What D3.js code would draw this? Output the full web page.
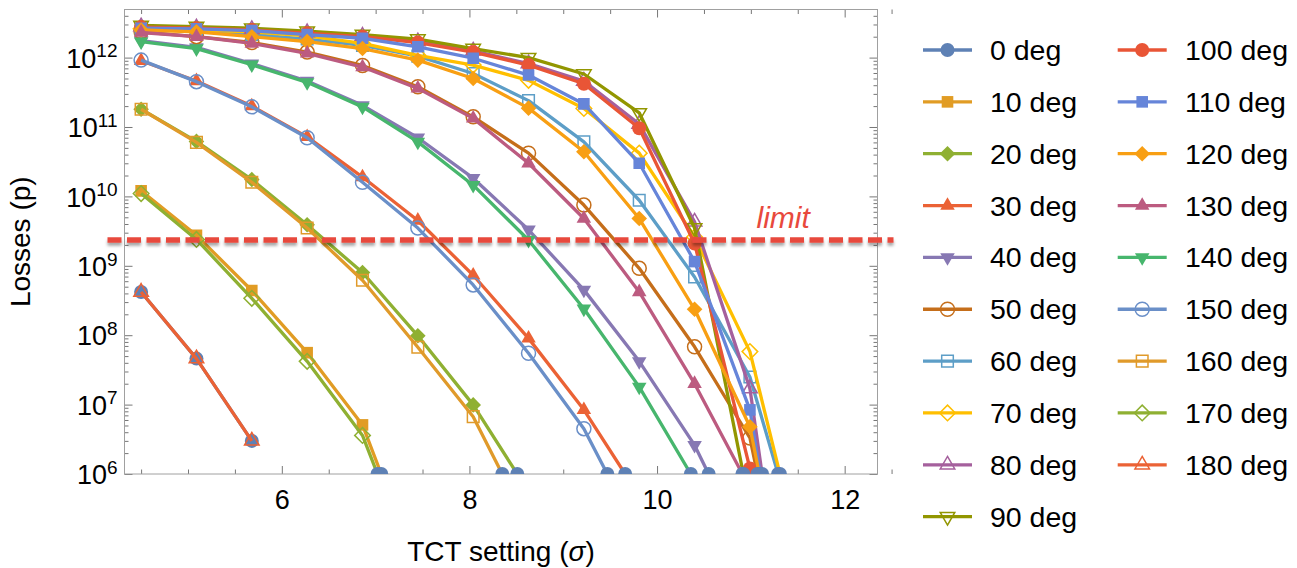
<!DOCTYPE html>
<html>
<head>
<meta charset="utf-8">
<script src="https://cdn.jsdelivr.net/npm/d3@7"></script>
<style>
    body { margin: 0; background: #fff; }
    svg { font-family: "Liberation Sans", Arial, Helvetica, sans-serif; }
</style>
</head>
<body>
<div id="chart"></div>
<script>
// TCT settings (sigma) at which losses were computed
const tctSettings = [4.50, 5.09, 5.68, 6.27, 6.86, 7.45, 8.04, 8.63, 9.22, 9.81, 10.40, 10.99];

const angleLabels = ["0 deg", "10 deg", "20 deg", "30 deg", "40 deg", "50 deg", "60 deg",
    "70 deg", "80 deg", "90 deg", "100 deg", "110 deg", "120 deg", "130 deg", "140 deg",
    "150 deg", "160 deg", "170 deg", "180 deg"];

// losses (p), one value per TCT setting
const loss0   = [4.2e8, 4.6e7, 3.0e6];
const loss10  = [1.2e10, 2.75e9, 4.4e8, 5.6e7, 5.1e6];
const loss20  = [1.8e11, 6.2e10, 1.75e10, 3.9e9, 8.0e8, 9.8e7, 9.9e6];
const loss30  = [9.0e11, 4.6e11, 2.0e11, 7.2e10, 1.9e10, 4.5e9, 7.3e8, 9.0e7, 8.4e6];
const loss40  = [1.75e12, 1.4e12, 8.2e11, 4.6e11, 2.05e11, 7.0e10, 1.83e10, 3.3e9, 4.5e8, 4.2e7, 2.6e6];
const loss50  = [2.35e12, 2.0e12, 1.65e12, 1.2e12, 7.7e11, 3.8e11, 1.4e11, 4.2e10, 7.5e9, 9.2e8, 6.8e7, 3.3e6];
const loss60  = [2.6e12, 2.45e12, 2.15e12, 1.85e12, 1.5e12, 1.05e12, 5.9e11, 2.4e11, 6.1e10, 8.8e9, 6.9e8, 2.5e7];
const loss70  = [2.6e12, 2.5e12, 2.35e12, 2.05e12, 1.6e12, 1.08e12, 7.8e11, 4.7e11, 1.85e11, 4.2e10, 2.6e9, 5.8e7];
const loss80  = [2.8e12, 2.7e12, 2.55e12, 2.3e12, 2.05e12, 1.7e12, 1.25e12, 8.2e11, 4.6e11, 1.1e11, 4.3e9, 1.7e7];
const loss90  = [2.9e12, 2.8e12, 2.65e12, 2.4e12, 2.15e12, 1.85e12, 1.35e12, 1.0e12, 5.8e11, 1.6e11, 3.5e9];
const loss100 = [2.75e12, 2.65e12, 2.5e12, 2.25e12, 2.0e12, 1.65e12, 1.2e12, 7.8e11, 4.2e11, 9.6e10, 2.1e9, 1.2e6];
const loss110 = [2.65e12, 2.6e12, 2.45e12, 2.15e12, 1.9e12, 1.43e12, 9.8e11, 5.6e11, 2.15e11, 3.0e10, 1.15e9, 8.4e6];
const loss120 = [2.5e12, 2.35e12, 2.0e12, 1.7e12, 1.35e12, 9.2e11, 5.0e11, 1.87e11, 4.4e10, 4.8e9, 2.36e8, 4.8e6];
const loss130 = [2.3e12, 2.0e12, 1.6e12, 1.15e12, 7.3e11, 3.6e11, 1.33e11, 3.0e10, 4.8e9, 4.2e8, 2.0e7];
const loss140 = [1.7e12, 1.35e12, 7.9e11, 4.4e11, 1.95e11, 6.1e10, 1.45e10, 2.35e9, 2.4e8, 1.8e7];
const loss150 = [9.2e11, 4.5e11, 1.95e11, 7.0e10, 1.6e10, 3.5e9, 5.3e8, 5.5e7, 4.5e6];
const loss160 = [1.8e11, 6.0e10, 1.6e10, 3.5e9, 6.2e8, 6.7e7, 6.7e6];
const loss170 = [1.1e10, 2.4e9, 3.4e8, 4.2e7, 3.6e6];
const loss180 = [4.2e8, 4.6e7, 3.0e6];

// TCT setting where each curve drops below the 1e6 floor (null = no crossing)
const floorCrossing = [null, 7.06, 8.51, 9.66, 10.55, 11.07, 11.29, 11.31, 11.12, 10.92,
    null, 11.10, 11.09, 10.91, 10.36, 9.47, 8.35, 7.02, null];

const limitLoss = 2.35e9;
const xTickLabels = [6, 8, 10, 12];
const yDecades = [1e6, 1e7, 1e8, 1e9, 1e10, 1e11, 1e12];

const lossSeries = [loss0, loss10, loss20, loss30, loss40, loss50, loss60, loss70, loss80, loss90,
    loss100, loss110, loss120, loss130, loss140, loss150, loss160, loss170, loss180];

// Mathematica style palette, cycling after 15
const palette = ["#5e81b5", "#e19c24", "#8fb032", "#eb6235", "#8778b3", "#c56e1a", "#5d9ec7",
    "#ffbf00", "#a5609d", "#929600", "#e95536", "#6685d9", "#f89f13", "#bc5b80", "#47b66d",
    "#6a8fc8", "#e09a2a", "#8fb032", "#eb6235"];

const width = 1297;
const height = 568;
const plot = { left: 124.5, right: 877.5, top: 9.5, bottom: 474 };

const x = d3.scaleLinear().domain([4.323, 12.35]).range([plot.left, plot.right]);
const y = d3.scaleLog().domain([1e6, Math.pow(10, 12.693)]).range([plot.bottom, plot.top]);

// marker shapes: circle, square, diamond, up triangle, down triangle (filled, then open)
function markerPath(kind) {
    switch (kind) {
        case 0: { const r = 7; return `M${-r},0A${r},${r} 0 1,0 ${r},0A${r},${r} 0 1,0 ${-r},0Z`; }
        case 1: { const h = 5.8; return `M${-h},${-h}H${h}V${h}H${-h}Z`; }
        case 2: { const d = 7.8; return `M0,${-d}L${d},0L0,${d}L${-d},0Z`; }
        case 3: { const R = 8.4; return `M0,${-R}L${R * 0.866},${R / 2}L${-R * 0.866},${R / 2}Z`; }
        default: { const R = 8.4; return `M0,${R}L${R * 0.866},${-R / 2}L${-R * 0.866},${-R / 2}Z`; }
    }
}

const svg = d3.select("#chart")
    .append("svg")
    .attr("width", width)
    .attr("height", height)
    .attr("viewBox", [0, 0, width, height]);

const defs = svg.append("defs");
defs.append("clipPath").attr("id", "plot-clip")
    .append("rect")
    .attr("x", plot.left).attr("y", plot.top)
    .attr("width", plot.right - plot.left).attr("height", plot.bottom - plot.top);

defs.append("filter").attr("id", "shadow")
    .attr("filterUnits", "userSpaceOnUse")
    .attr("x", 0).attr("y", 200).attr("width", width).attr("height", 80)
    .append("feDropShadow")
    .attr("dx", 0).attr("dy", 3).attr("stdDeviation", 1.8)
    .attr("flood-color", "#000").attr("flood-opacity", 0.35);

// =================== Frame and axes ===================
const tickColor = "#777";

const minorX = d3.range(4.5, 12.51, 0.5).filter(v => !xTickLabels.includes(v));

function styleAxis(g) {
    g.select(".domain").remove();
    g.selectAll(".tick line").attr("stroke", tickColor);
    g.selectAll(".tick text").attr("fill", "#000");
}

// bottom
svg.append("g").attr("transform", `translate(0,${plot.bottom})`)
    .call(d3.axisBottom(x).tickValues(minorX).tickSize(-4.5).tickFormat(""))
    .call(styleAxis);
svg.append("g").attr("transform", `translate(0,${plot.bottom})`)
    .call(d3.axisBottom(x).tickValues(xTickLabels).tickSize(-8).tickPadding(16).tickFormat(d3.format("d")))
    .call(styleAxis)
    .selectAll(".tick text").attr("font-size", 27).attr("font-family", "Liberation Sans, Arial, sans-serif");
// top
svg.append("g").attr("transform", `translate(0,${plot.top})`)
    .call(d3.axisTop(x).tickValues(minorX).tickSize(-4.5).tickFormat(""))
    .call(styleAxis);
svg.append("g").attr("transform", `translate(0,${plot.top})`)
    .call(d3.axisTop(x).tickValues(xTickLabels).tickSize(-8).tickFormat(""))
    .call(styleAxis);

const minorY = [];
yDecades.forEach(d => { for (let k = 2; k <= 9; k++) if (d * k < y.domain()[1]) minorY.push(d * k); });

// left
svg.append("g").attr("transform", `translate(${plot.left},0)`)
    .call(d3.axisLeft(y).tickValues(minorY).tickSize(-4).tickFormat(""))
    .call(styleAxis);
const yAxis = svg.append("g").attr("transform", `translate(${plot.left},0)`)
    .call(d3.axisLeft(y).tickValues(yDecades).tickSize(-8).tickPadding(7))
    .call(styleAxis);
yAxis.selectAll(".tick text")
    .attr("font-size", 27)
    .attr("dy", "0.36em")
    .each(function (d) {
        const t = d3.select(this);
        t.text("");
        t.append("tspan").text("10");
        t.append("tspan").attr("font-size", 19).attr("dy", "-0.55em").text(Math.round(Math.log10(d)));
    });
// right
svg.append("g").attr("transform", `translate(${plot.right},0)`)
    .call(d3.axisRight(y).tickValues(minorY).tickSize(-4).tickFormat(""))
    .call(styleAxis);
svg.append("g").attr("transform", `translate(${plot.right},0)`)
    .call(d3.axisRight(y).tickValues(yDecades).tickSize(-8).tickFormat(""))
    .call(styleAxis);

svg.append("rect")
    .attr("x", plot.left).attr("y", plot.top)
    .attr("width", plot.right - plot.left).attr("height", plot.bottom - plot.top)
    .attr("fill", "none").attr("stroke", "#a0a0a0").attr("stroke-width", 1);

// axis titles
const xTitle = svg.append("text")
    .attr("x", (plot.left + plot.right) / 2).attr("y", 561)
    .attr("text-anchor", "middle").attr("font-size", 28).attr("fill", "#000");
xTitle.append("tspan").text("TCT setting (");
xTitle.append("tspan").attr("font-style", "italic").text("σ");
xTitle.append("tspan").text(")");

svg.append("text")
    .attr("transform", `translate(30,${(plot.top + plot.bottom) / 2}) rotate(-90)`)
    .attr("text-anchor", "middle").attr("font-size", 28).attr("fill", "#000")
    .text("Losses (p)");

// =================== Series ===================
const line = d3.line().x(d => x(d[0])).y(d => y(d[1]));
const dataLayer = svg.append("g").attr("clip-path", "url(#plot-clip)");

lossSeries.forEach((vals, i) => {
    const color = palette[i];
    const kind = i % 5;
    const open = (i % 10) >= 5;
    const pts = vals.map((v, j) => [tctSettings[j], v]);
    const linePts = floorCrossing[i] != null ? pts.concat([[floorCrossing[i], 1e6]]) : pts;

    const g = dataLayer.append("g");
    g.append("path")
        .datum(linePts)
        .attr("d", line)
        .attr("fill", "none")
        .attr("stroke", color)
        .attr("stroke-width", 3.3)
        .attr("stroke-linejoin", "round");

    g.selectAll("path.mark")
        .data(pts)
        .join("path")
        .attr("class", "mark")
        .attr("transform", d => `translate(${x(d[0])},${y(d[1])})`)
        .attr("d", markerPath(kind))
        .attr("fill", open ? "none" : color)
        .attr("stroke", color)
        .attr("stroke-width", open ? 1.5 : 0);
});

// markers where curves leave the plot range at the bottom
dataLayer.append("g")
    .selectAll("path")
    .data(floorCrossing.filter(v => v != null))
    .join("path")
    .attr("transform", d => `translate(${x(d)},${y(1e6)})`)
    .attr("d", markerPath(0))
    .attr("fill", palette[0]);

// =================== Limit line ===================
svg.append("line")
    .attr("x1", plot.left - 17).attr("x2", plot.right + 16)
    .attr("y1", y(limitLoss)).attr("y2", y(limitLoss))
    .attr("stroke", "#e8493d")
    .attr("stroke-width", 5.5)
    .attr("stroke-dasharray", "14,5.5")
    .attr("filter", "url(#shadow)");

svg.append("text")
    .attr("x", x(11.06)).attr("y", y(limitLoss) - 12)
    .attr("font-size", 30).attr("font-style", "italic")
    .attr("fill", "#e8493d")
    .text("limit");

// =================== Legend ===================
const legend = svg.append("g");
lossSeries.forEach((vals, i) => {
    const col = i < 10 ? 0 : 1;
    const row = i % 10;
    const lx = col === 0 ? 923 : 1117.7;
    const tx = col === 0 ? 990 : 1185;
    const ly = 50 + row * 51.85;
    const color = palette[i];
    const open = (i % 10) >= 5;
    const g = legend.append("g");
    g.append("line")
        .attr("x1", lx).attr("x2", lx + 49)
        .attr("y1", ly).attr("y2", ly)
        .attr("stroke", color).attr("stroke-width", 3.3);
    g.append("path")
        .attr("transform", `translate(${lx + 24.5},${ly})`)
        .attr("d", markerPath(i % 5))
        .attr("fill", open ? "none" : color)
        .attr("stroke", color)
        .attr("stroke-width", open ? 1.5 : 0);
    g.append("text")
        .attr("x", tx).attr("y", ly)
        .attr("dy", "0.35em")
        .attr("font-size", 28.5)
        .attr("fill", "#000")
        .text(angleLabels[i]);
});
</script>
</body>
</html>
